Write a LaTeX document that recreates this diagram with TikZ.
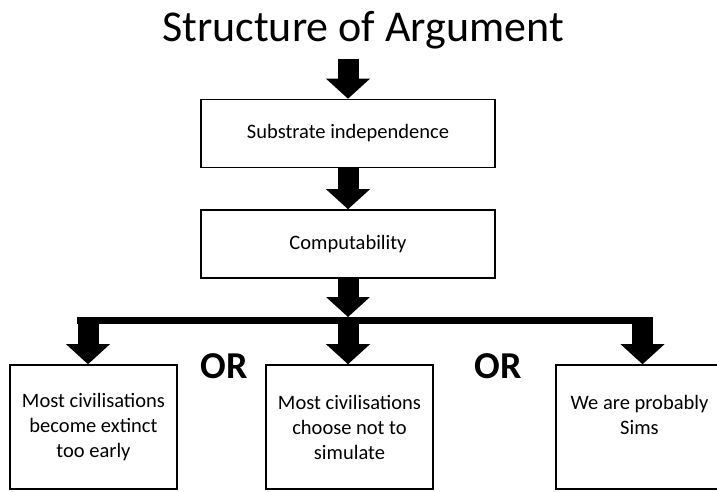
\documentclass[tikz,border=0pt]{standalone}
\usepackage{fontspec}
\setmainfont{Carlito}
\usetikzlibrary{arrows.meta}
\tikzset{
  box/.style={draw, line width=1.6pt, minimum width=167pt, minimum height=124pt,
    align=center, font=\fontsize{20.5}{25}\selectfont},
  topbox/.style={box, minimum width=294pt, minimum height=68pt},
  fat/.style={line width=21pt, -{Triangle[length=20pt,width=44pt,line width=0pt]}},
  bar/.style={line width=7.5pt},
  ortext/.style={font=\fontsize{38}{40}\selectfont\bfseries}
}
\begin{document}
\begin{tikzpicture}[x=1pt,y=-1pt]
    \useasboundingbox (0,0) rectangle (717,492);
    %% Title
    \node (title) at (363,30) {\fontsize{44}{48}\selectfont Structure of Argument};
    %% Boxes
    \node[topbox] (subst) at (348,133.5) {Substrate independence};
    \node[topbox] (comp) at (348,244) {Computability};
    \node[box] (extinct) at (93.5,427) {Most civilisations\\become extinct\\too early};
    \node[box] (choose) at (349.5,427) {Most civilisations\\choose not to\\simulate};
    \node[box] (sims) at (639.5,427) {We are probably\\Sims\\~};
    %% OR
    \node[ortext] (or1) at (224.5,366) {OR};
    \node[ortext] (or2) at (498,366) {OR};
    %% Arrows
    \coordinate (start) at (348,59);
    \coordinate (bartop) at (348,317);
    \coordinate (barl) at (77,320.5);
    \coordinate (barr) at (653,320.5);
    \coordinate (bl) at (88,317);
    \coordinate (bm) at (348,324);
    \coordinate (br) at (642.5,317);
    \draw[fat] (start) -- (subst.north);
    \draw[fat] (subst.south) -- (comp.north);
    \draw[fat] (comp.south) -- (bartop);
    \draw[bar] (barl) -- (barr);
    \draw[fat] (bl) -- (bl |- extinct.north);
    \draw[fat] (bm) -- (bm |- choose.north);
    \draw[fat] (br) -- (br |- sims.north);
\end{tikzpicture}
\end{document}
